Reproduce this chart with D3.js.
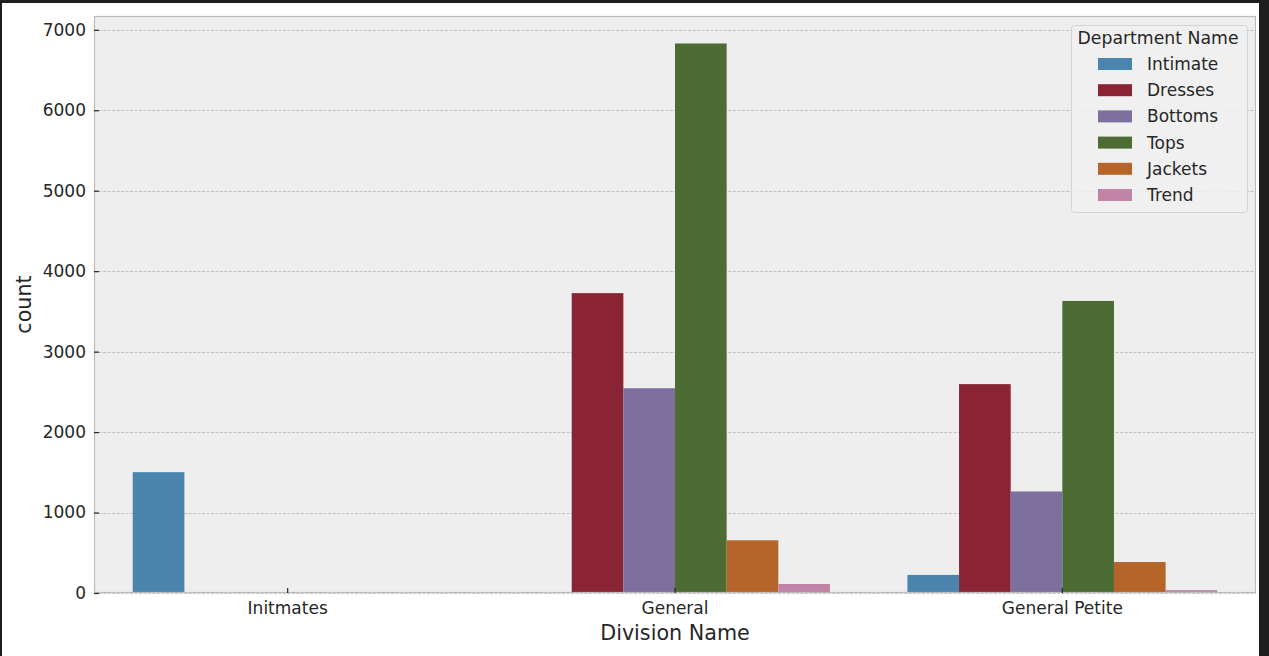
<!DOCTYPE html>
<html>
<head>
<meta charset="utf-8">
<script src="https://cdn.jsdelivr.net/npm/d3@7"></script>
<style>
  html, body { margin: 0; padding: 0; background: #1e1e1e; }
  svg { display: block; }
  text { font-family: "DejaVu Sans", sans-serif; fill: #262626; }
</style>
</head>
<body>
<svg id="chart" width="1269" height="656"></svg>
<script>
const divisions = ["Initmates", "General", "General Petite"];
const departments = ["Intimate", "Dresses", "Bottoms", "Tops", "Jackets", "Trend"];
const colors = ["#4b84ad", "#8a2333", "#7d709e", "#4d6c33", "#b5652a", "#c184a6"];
// counts per department, in order of divisions
const intimateCounts = [1502, 0, 225];
const dressesCounts  = [0, 3727, 2596];
const bottomsCounts  = [0, 2545, 1262];
const topsCounts     = [0, 6830, 3630];
const jacketsCounts  = [0, 655, 385];
const trendCounts    = [0, 112, 36];
const yTicks = [0, 1000, 2000, 3000, 4000, 5000, 6000, 7000];

const seriesValues = [intimateCounts, dressesCounts, bottomsCounts, topsCounts, jacketsCounts, trendCounts];
const rows = [];
departments.forEach((dep, i) => {
  divisions.forEach((div, j) => {
    rows.push({ dep, div, value: seriesValues[i][j], color: colors[i] });
  });
});

const svg = d3.select("#chart");
// white figure area inside the dark frame
svg.append("rect").attr("x", 2).attr("y", 3).attr("width", 1257).attr("height", 653).attr("fill", "#ffffff");

const m = { left: 94, right: 1256, top: 16, bottom: 593 };

const x = d3.scaleBand().domain(divisions).range([m.left, m.right]).padding(0);
const bw = x.bandwidth();
const xInner = d3.scaleBand().domain(departments).range([0.1 * bw, 0.9 * bw]).padding(0);
const yMax = d3.max(rows, d => d.value) * 1.05;
const y = d3.scaleLinear().domain([0, yMax]).range([m.bottom, m.top]);

// plot background
svg.append("rect").attr("x", m.left).attr("y", m.top)
  .attr("width", m.right - m.left).attr("height", m.bottom - m.top)
  .attr("fill", "#eeeeee");

// grid
svg.append("g").selectAll("line").data(yTicks).join("line")
  .attr("x1", m.left).attr("x2", m.right)
  .attr("y1", d => Math.round(y(d)) + 0.5).attr("y2", d => Math.round(y(d)) + 0.5)
  .attr("stroke", "#b2b2b2").attr("stroke-width", 0.8).attr("stroke-dasharray", "3,1.5");

// bars
svg.append("g").selectAll("rect").data(rows.filter(d => d.value > 0)).join("rect")
  .attr("x", d => x(d.div) + xInner(d.dep))
  .attr("width", xInner.bandwidth())
  .attr("y", d => y(d.value))
  .attr("height", d => y(0) - y(d.value))
  .attr("fill", d => d.color);

// frame
svg.append("rect").attr("x", m.left + 0.5).attr("y", m.top + 0.5)
  .attr("width", m.right - m.left - 1).attr("height", m.bottom - m.top - 1)
  .attr("fill", "none").attr("stroke", "#bcbcbc").attr("stroke-width", 1.2);

// y axis
const yAxis = d3.axisLeft(y).tickValues(yTicks).tickSize(-5).tickPadding(8).tickFormat(d3.format("d"));
const gy = svg.append("g").attr("transform", `translate(${m.left},0)`).call(yAxis);
gy.select(".domain").remove();
gy.selectAll(".tick line").attr("stroke", "#262626").attr("stroke-width", 1.2);
gy.selectAll(".tick text").attr("font-size", 17).attr("fill", "#262626")
  .attr("font-family", "DejaVu Sans, sans-serif");

// x axis
const xAxis = d3.axisBottom(x).tickSize(-5).tickPadding(9);
const gx = svg.append("g").attr("transform", `translate(0,${m.bottom})`).call(xAxis);
gx.select(".domain").remove();
gx.selectAll(".tick line").attr("stroke", "#262626").attr("stroke-width", 1.2);
gx.selectAll(".tick text").attr("font-size", 17).attr("fill", "#262626")
  .attr("font-family", "DejaVu Sans, sans-serif");

// axis labels
svg.append("text").attr("x", (m.left + m.right) / 2).attr("y", 640)
  .attr("text-anchor", "middle").attr("font-size", 20.7).text("Division Name");
svg.append("text").attr("transform", `translate(31,${(m.top + m.bottom) / 2}) rotate(-90)`)
  .attr("text-anchor", "middle").attr("font-size", 20.7).text("count");

// legend
const lg = svg.append("g");
lg.append("rect").attr("x", 1071.5).attr("y", 25.5).attr("width", 176).attr("height", 187)
  .attr("rx", 3).attr("fill", "#f0f0f0").attr("fill-opacity", 0.85)
  .attr("stroke", "#d4d4d4");
lg.append("text").attr("x", 1158).attr("y", 44).attr("text-anchor", "middle")
  .attr("font-size", 17.3).text("Department Name");
const items = lg.selectAll("g.item").data(departments).join("g").attr("class", "item")
  .attr("transform", (d, i) => `translate(0,${64 + i * 26.2})`);
items.append("rect").attr("x", 1098).attr("y", -6).attr("width", 34).attr("height", 12)
  .attr("fill", (d, i) => colors[i]);
items.append("text").attr("x", 1147).attr("y", 6).attr("font-size", 17).text(d => d);
</script>
</body>
</html>
